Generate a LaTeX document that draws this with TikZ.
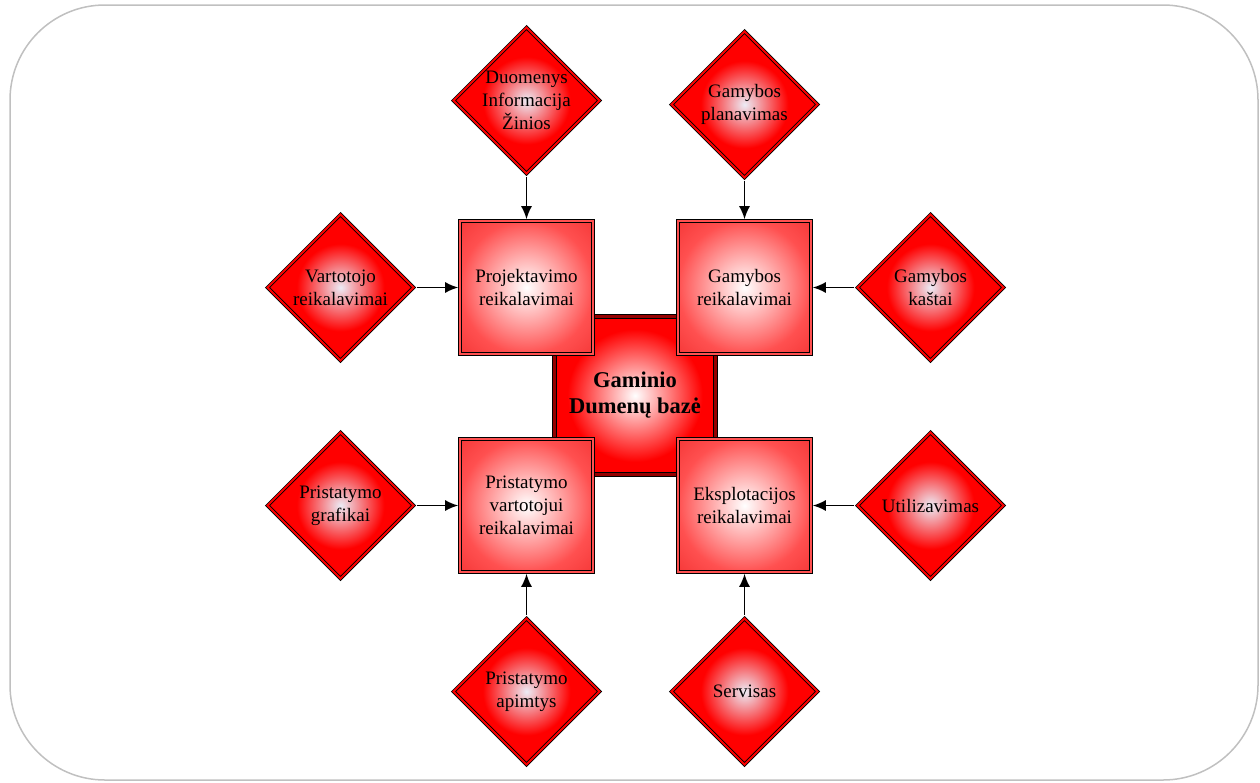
\documentclass[tikz,border=0pt]{standalone}
\usepackage{fontspec}
\setmainfont{Liberation Serif}
\usetikzlibrary{shapes.geometric,arrows.meta}

\definecolor{framegray}{RGB}{192,192,192}
\definecolor{boxedge}{RGB}{255,80,80}
\definecolor{boxcorner}{RGB}{245,55,55}
\definecolor{dicenter}{RGB}{236,236,246}
\definecolor{coreband}{RGB}{150,0,0}

% radial fills: white core fading to red towards the border
\pgfdeclareradialshading{boxshade}{\pgfpoint{0bp}{0bp}}{color(0bp)=(white); color(25bp)=(boxedge); color(36bp)=(boxcorner); color(50bp)=(boxcorner)}
\pgfdeclareradialshading{coreshade}{\pgfpoint{0bp}{0bp}}{color(0bp)=(white); color(21bp)=(red); color(50bp)=(red)}
\pgfdeclareradialshading{diashade}{\pgfpoint{0bp}{0bp}}{color(0bp)=(dicenter); color(15bp)=(red); color(50bp)=(red)}

\begin{document}
\begin{tikzpicture}[x=1pt,y=-1pt,
  frame/.style={draw=framegray, line width=1.5pt, rounded corners=95pt},
  reqbox/.style={rectangle, minimum width=133pt, minimum height=133pt, inner sep=0pt,
    outer sep=1.8pt, shading=boxshade, draw=black, double=boxedge,
    double distance=2pt, line width=0.8pt},
  corebox/.style={rectangle, minimum width=161pt, minimum height=158pt, inner sep=0pt,
    shading=coreshade, draw=black, double=coreband, double distance=2.5pt, line width=1.2pt},
  dia/.style={diamond, aspect=1, minimum width=148pt, minimum height=148pt, inner sep=0pt,
    outer sep=2.5pt, shading=diashade, draw=black, double=red,
    double distance=2pt, line width=0.8pt},
  lbl/.style={align=center, inner sep=0pt, font=\fontsize{19}{23}\selectfont},
  corelbl/.style={align=center, inner sep=0pt, font=\bfseries\fontsize{22.5}{26}\selectfont},
  conn/.style={line width=1.6pt, -{Latex[length=13pt,width=11pt]}}
]
\useasboundingbox (0,0) rectangle (1260,782);
\draw[frame] (10,5) rectangle (1258,780);

% central database block, partly covered by the four requirement boxes
\node[corebox] (core) at (635,395.5) {};
\node[corelbl] (coretext) at (core) {Gaminio\\Dumenų bazė};

% requirement boxes
\node[reqbox] (b1) at (526.5,287.5) {};
\node[lbl] (b1t) at (b1) {Projektavimo\\reikalavimai};
\node[reqbox] (b2) at (744.5,287.5) {};
\node[lbl] (b2t) at (b2) {Gamybos\\reikalavimai};
\node[reqbox] (b3) at (526.5,505.5) {};
\node[lbl] (b3t) at (b3) {Pristatymo\\vartotojui\\reikalavimai};
\node[reqbox] (b4) at (744.5,505.5) {};
\node[lbl] (b4t) at (b4) {Eksplotacijos\\reikalavimai};

% input diamonds
\node[dia] (d1) at (526.5,100.5) {};
\node[lbl] (d1t) at (d1) {Duomenys\\Informacija\\Žinios};
\node[dia] (d2) at (744.5,104.5) {};
\node[lbl] (d2t) at (d2) {Gamybos\\planavimas};
\node[dia] (d3) at (340.5,287.5) {};
\node[lbl] (d3t) at (d3) {Vartotojo\\reikalavimai};
\node[dia] (d4) at (930.5,287.5) {};
\node[lbl] (d4t) at (d4) {Gamybos\\kaštai};
\node[dia] (d5) at (340.5,505.5) {};
\node[lbl] (d5t) at (d5) {Pristatymo\\grafikai};
\node[dia] (d6) at (930.5,505.5) {};
\node[lbl] (d6t) at (d6) {Utilizavimas};
\node[dia] (d7) at (526.5,691.5) {};
\node[lbl] (d7t) at (d7) {Pristatymo\\apimtys};
\node[dia] (d8) at (744.5,691.5) {};
\node[lbl] (d8t) at (d8) {Servisas};

% connectors
\draw[conn] (d1.south) -- (b1.north);
\draw[conn] (d2.south) -- (b2.north);
\draw[conn] (d3.east) -- (b1.west);
\draw[conn] (d4.west) -- (b2.east);
\draw[conn] (d5.east) -- (b3.west);
\draw[conn] (d6.west) -- (b4.east);
\draw[conn] (d7.north) -- (b3.south);
\draw[conn] (d8.north) -- (b4.south);
\end{tikzpicture}
\end{document}
